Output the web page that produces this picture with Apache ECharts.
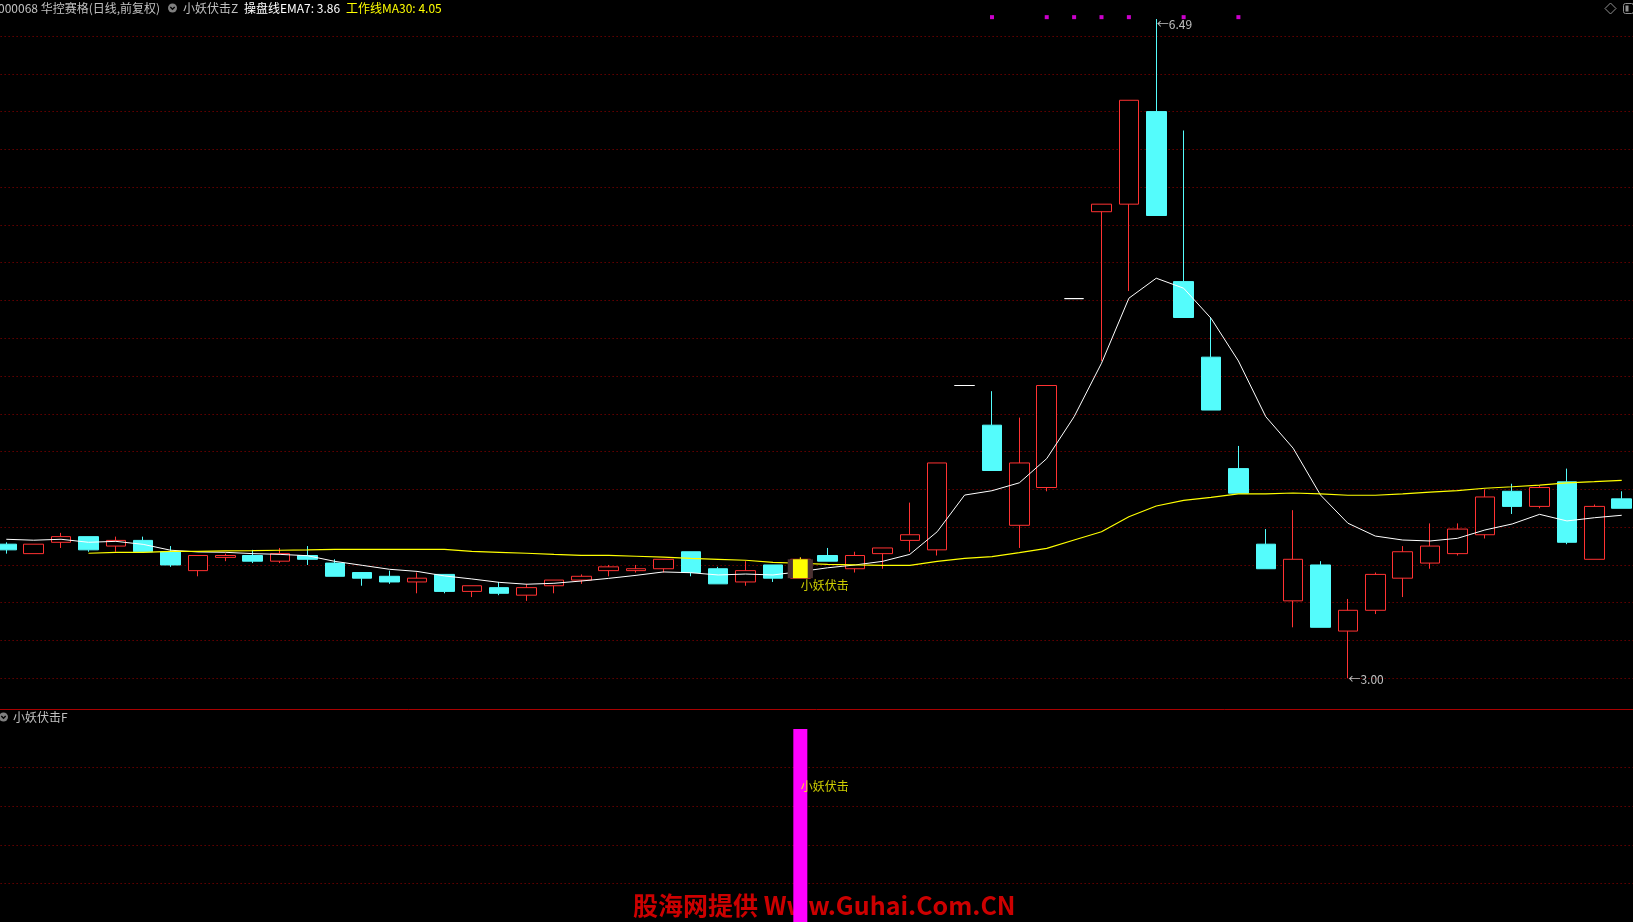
<!DOCTYPE html>
<html><head><meta charset="utf-8">
<script src="https://cdn.jsdelivr.net/npm/echarts@6/dist/echarts.min.js"></script>
<style>html,body{margin:0;padding:0;background:#000;overflow:hidden}#c{width:1633px;height:922px;}</style>
</head><body><div id="c"></div>
<script>
// ---- data ----
const categories = ['1','2','3','4','5','6','7','8','9','10','11','12','13','14','15','16','17','18','19','20',
  '21','22','23','24','25','26','27','28','29','30','31','32','33','34','35','36','37','38','39','40',
  '41','42','43','44','45','46','47','48','49','50','51','52','53','54','55','56','57','58','59','60'];
const openP  = [3.71,3.66,3.72,3.75,3.70,3.73,3.67,3.57,3.64,3.65,3.62,3.65,3.61,3.56,3.54,3.51,3.55,3.46,3.48,3.44,
  3.49,3.52,3.57,3.57,3.58,3.67,3.58,3.51,3.60,3.53,3.65,3.58,3.66,3.73,3.68,4.55,4.34,3.81,4.01,5.01,
  5.47,5.51,6.00,5.10,4.70,4.11,3.71,3.41,3.60,3.25,3.36,3.53,3.61,3.66,3.76,3.99,3.91,4.04,3.63,3.95];
const closeP = [3.68,3.71,3.75,3.68,3.73,3.67,3.60,3.65,3.65,3.62,3.66,3.63,3.54,3.53,3.51,3.53,3.46,3.49,3.45,3.48,
  3.52,3.54,3.59,3.58,3.63,3.56,3.50,3.57,3.53,3.63,3.62,3.65,3.69,3.76,4.14,4.55,4.10,4.14,4.55,5.01,
  5.51,6.06,5.45,4.91,4.42,3.98,3.58,3.63,3.27,3.36,3.55,3.67,3.70,3.79,3.96,3.91,4.01,3.72,3.91,3.90];
const lowP   = [3.66,3.66,3.69,3.67,3.67,3.67,3.59,3.54,3.62,3.61,3.61,3.60,3.54,3.49,3.50,3.45,3.45,3.43,3.44,3.41,
  3.45,3.50,3.54,3.56,3.56,3.54,3.50,3.49,3.51,3.53,3.62,3.56,3.58,3.67,3.65,4.55,4.10,3.69,3.99,5.01,
  4.68,5.05,5.45,4.91,4.42,3.98,3.58,3.27,3.27,3.00,3.34,3.43,3.58,3.65,3.74,3.87,3.90,3.71,3.63,3.90];
const highP  = [3.72,3.71,3.77,3.75,3.75,3.75,3.70,3.65,3.66,3.68,3.69,3.70,3.63,3.56,3.57,3.56,3.55,3.49,3.51,3.50,
  3.52,3.55,3.60,3.60,3.63,3.67,3.59,3.62,3.60,3.64,3.69,3.67,3.69,3.93,4.14,4.55,4.52,4.38,4.55,5.01,
  5.51,6.06,6.49,5.90,4.91,4.23,3.79,3.89,3.62,3.42,3.56,3.70,3.82,3.82,4.00,4.03,4.02,4.11,3.92,3.99];
const ema7 = [3.736,3.731,3.736,3.720,3.725,3.709,3.678,3.669,3.667,3.660,3.656,3.649,3.619,3.598,3.577,3.566,3.542,3.526,3.508,3.498,
  3.503,3.515,3.529,3.545,3.563,3.559,3.547,3.552,3.547,3.565,3.585,3.600,3.619,3.656,3.776,3.970,3.993,4.035,4.163,4.385,
  4.668,5.012,5.118,5.065,4.906,4.680,4.385,4.218,3.970,3.821,3.753,3.732,3.727,3.741,3.785,3.817,3.868,3.833,3.850,3.863];
const ma30 = [null,null,null,3.662,3.667,3.667,3.672,3.672,3.675,3.676,3.678,3.680,3.683,3.683,3.683,3.683,3.683,3.672,3.667,3.662,
  3.656,3.651,3.651,3.646,3.641,3.635,3.630,3.625,3.614,3.609,3.603,3.600,3.598,3.598,3.619,3.635,3.644,3.665,3.688,3.732,
  3.776,3.855,3.912,3.942,3.958,3.976,3.976,3.981,3.976,3.969,3.969,3.976,3.986,3.993,4.006,4.014,4.023,4.035,4.041,4.048];
const signal = [0,0,0,0,0,0,0,0,0,0,0,0,0,0,0,0,0,0,0,0,
  0,0,0,0,0,0,0,0,0,1,0,0,0,0,0,0,0,0,0,0,
  0,0,0,0,0,0,0,0,0,0,0,0,0,0,0,0,0,0,0,0];
const dotIdx = [36,38,39,40,41,43,45];
const dotLevel = 6.5;
const mainTextLevel = 3.49;
const subBarLevel = 1;
const subTextLevel = 0.7;
const signalText = '小妖伏击';
const stockTitle = '000068 华控赛格(日线,前复权)';
const formulaMain = '小妖伏击Z';
const formulaSub = '小妖伏击F';
const watermark = '股海网提供 Www.Guhai.Com.CN';

// ---- build ----
const RED = '#ff3232', CYAN = '#54fcfc', GRIDC = '#9a0000';
const FONT = '"Noto Sans CJK SC", "DejaVu Sans", sans-serif';
const N = categories.length;
const candleData = categories.map((c, i) => {
  const v = [openP[i], closeP[i], lowP[i], highP[i]];
  const flat = openP[i] === closeP[i] && highP[i] === lowP[i] && openP[i] === highP[i];
  return flat ? {value: v, itemStyle: {color: '#fff', color0: '#fff', borderColor: '#fff', borderColor0: '#fff'}} : v;
});
const sigIdx = signal.map((s, i) => s ? i : -1).filter(i => i >= 0);
const sigCandles = sigIdx.map(i => [i, openP[i], closeP[i], highP[i]]);

const GL = -7.39, GW = 1642.8;
const chart = echarts.init(document.getElementById('c'), null, {renderer: 'canvas'});
const axisOff = {axisLine: {show: false}, axisTick: {show: false}, axisLabel: {show: false}};
chart.setOption({
  backgroundColor: '#000',
  animation: false,
  grid: [
    {left: GL, width: GW, top: -1.74, height: 680.04, outerBoundsMode: 'none', containLabel: false},
    {left: GL, width: GW, top: 729, height: 193, outerBoundsMode: 'none', containLabel: false}
  ],
  xAxis: [
    Object.assign({type: 'category', data: categories, gridIndex: 0, boundaryGap: true, splitLine: {show: false}}, axisOff),
    Object.assign({type: 'category', data: categories, gridIndex: 1, boundaryGap: true, splitLine: {show: false}}, axisOff)
  ],
  yAxis: [
    Object.assign({type: 'value', gridIndex: 0, min: 3.0, max: 6.6, interval: 0.2,
      splitLine: {show: true, showMaxLine: false, lineStyle: {color: GRIDC, type: [1, 3], width: 1}}}, axisOff),
    Object.assign({type: 'value', gridIndex: 1, min: 0, max: 1, interval: 0.2,
      splitLine: {show: true, showMinLine: false, showMaxLine: false, lineStyle: {color: GRIDC, type: [1, 3], width: 1}}}, axisOff)
  ],
  series: [
    {
      type: 'candlestick', xAxisIndex: 0, yAxisIndex: 0, data: candleData, barWidth: 20,
      itemStyle: {color: '#000', color0: CYAN, borderColor: RED, borderColor0: CYAN, borderWidth: 1},
      markPoint: {
        symbol: 'circle', symbolSize: 1, itemStyle: {color: 'rgba(0,0,0,0)'},
        label: {show: true, position: 'right', distance: 0, color: '#c0c0c0', fontSize: 12, fontFamily: FONT,
          formatter: p => '←' + Number(p.value).toFixed(2)},
        data: [
          {type: 'max', valueDim: 'highest', label: {offset: [0, 5]}},
          {type: 'min', valueDim: 'lowest', label: {offset: [0, 1]}}
        ]
      }
    },
    {type: 'line', xAxisIndex: 0, yAxisIndex: 0, data: ema7, showSymbol: false, symbol: 'none',
      lineStyle: {color: '#ffffff', width: 1}},
    {type: 'line', xAxisIndex: 0, yAxisIndex: 0, data: ma30, showSymbol: false, symbol: 'none',
      lineStyle: {color: '#ffff00', width: 1.2}},
    {
      type: 'custom', xAxisIndex: 0, yAxisIndex: 0, z: 5, data: sigCandles, encode: {x: 0, y: [1, 2, 3]},
      renderItem: (params, api) => {
        const i = api.value(0);
        const o = api.value(1), c = api.value(2), h = api.value(3);
        const top = api.coord([i, Math.max(o, c)]);
        const bot = api.coord([i, Math.min(o, c)]);
        const hi = api.coord([i, h]);
        const band = api.size([1, 0])[0];
        return {type: 'group', children: [
          {type: 'rect', shape: {x: top[0] - band * 0.46, y: top[1], width: band * 0.92, height: bot[1] - top[1]}, style: {fill: '#4b3232'}},
          {type: 'rect', shape: {x: top[0] - band * 0.27, y: top[1], width: band * 0.54, height: bot[1] - top[1]}, style: {fill: '#ffff00'}},
          {type: 'line', shape: {x1: top[0], y1: hi[1], x2: top[0], y2: top[1]}, style: {stroke: '#ffff00', lineWidth: 1}}
        ]};
      }
    },
    {type: 'scatter', xAxisIndex: 0, yAxisIndex: 0, z: 6, data: dotIdx.map(i => [i, dotLevel]),
      symbol: 'rect', symbolSize: 4, itemStyle: {color: '#ff00ff'}},
    {type: 'scatter', xAxisIndex: 0, yAxisIndex: 0, z: 6, data: sigIdx.map(i => [i, mainTextLevel]),
      symbolSize: 1, itemStyle: {color: 'rgba(0,0,0,0)'},
      label: {show: true, position: 'right', distance: 0, formatter: signalText, color: '#ffff00', fontSize: 12, fontFamily: FONT}},
    {type: 'bar', xAxisIndex: 1, yAxisIndex: 1, z: 4, data: signal.map(s => s ? subBarLevel : '-'),
      barWidth: 14, itemStyle: {color: '#ff00ff'}},
    {type: 'scatter', xAxisIndex: 1, yAxisIndex: 1, z: 6, data: sigIdx.map(i => [i, subTextLevel]),
      symbolSize: 1, itemStyle: {color: 'rgba(0,0,0,0)'},
      label: {show: true, position: 'right', distance: 0, formatter: signalText, color: '#ffff00', fontSize: 12, fontFamily: FONT}}
  ],
  graphic: [
    {type: 'text', z: 0, left: 633, top: 893, style: {text: watermark, fill: '#cc0000', font: 'bold 25px ' + FONT}},
    {type: 'line', z: 10, shape: {x1: 0, y1: 709.5, x2: 1633, y2: 709.5}, style: {stroke: '#a80000', lineWidth: 1}},
    {type: 'text', z: 10, x: -2, y: 8, style: {text: stockTitle, fill: '#c0c0c0', font: '12px ' + FONT, verticalAlign: 'middle'}},
    {type: 'circle', z: 10, shape: {cx: 172.5, cy: 8, r: 4.5}, style: {fill: '#7f7f7f'}},
    {type: 'polyline', z: 11, shape: {points: [[170.3, 7], [172.5, 9.3], [174.7, 7]]}, style: {stroke: '#000', lineWidth: 1.4, fill: null}},
    {type: 'text', z: 10, x: 183, y: 8, style: {text: formulaMain, fill: '#c0c0c0', font: '12px ' + FONT, verticalAlign: 'middle'}},
    {type: 'text', z: 10, x: 244, y: 8, style: {text: '操盘线EMA7: ' + ema7[N - 1].toFixed(2), fill: '#ffffff', font: '12px ' + FONT, verticalAlign: 'middle'}},
    {type: 'text', z: 10, x: 346, y: 8, style: {text: '工作线MA30: ' + ma30[N - 1].toFixed(2), fill: '#ffff00', font: '12px ' + FONT, verticalAlign: 'middle'}},
    {type: 'circle', z: 10, shape: {cx: 3.5, cy: 717, r: 4.5}, style: {fill: '#7f7f7f'}},
    {type: 'polyline', z: 11, shape: {points: [[1.3, 716], [3.5, 718.3], [5.7, 716]]}, style: {stroke: '#000', lineWidth: 1.4, fill: null}},
    {type: 'text', z: 10, x: 13, y: 717, style: {text: formulaSub, fill: '#c0c0c0', font: '12px ' + FONT, verticalAlign: 'middle'}},
    {type: 'polygon', z: 10, shape: {points: [[1610.5, 3], [1616, 8.5], [1610.5, 14], [1605, 8.5]]}, style: {stroke: '#909090', fill: null, lineWidth: 1}},
    {type: 'rect', z: 10, shape: {x: 1623.5, y: 3.5, width: 10, height: 10, r: 2}, style: {stroke: '#909090', fill: null, lineWidth: 1}},
    {type: 'rect', z: 10, shape: {x: 1625.5, y: 5.5, width: 3, height: 6}, style: {fill: '#909090'}}
  ]
});
</script></body></html>
